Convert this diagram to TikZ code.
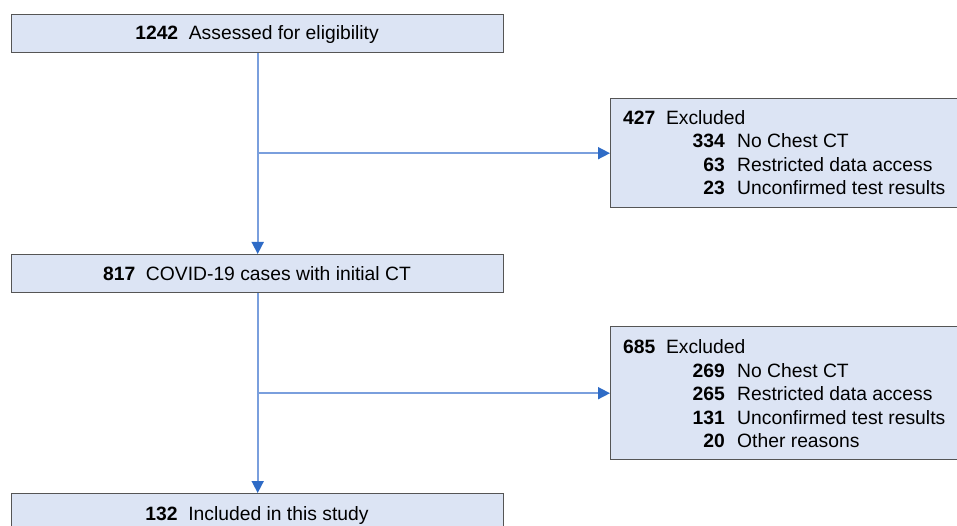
\documentclass[tikz,border=0pt]{standalone}
\usepackage{fontspec}
\setmainfont{Liberation Sans}
\usetikzlibrary{arrows.meta}
\definecolor{boxfill}{HTML}{DCE4F4}
\definecolor{boxline}{HTML}{555555}
\definecolor{linkline}{HTML}{7A9FDD}
\definecolor{tipblue}{HTML}{2E6BC6}
\tikzset{
  flowbox/.style={draw=boxline, line width=1.4pt, fill=boxfill, inner sep=0pt, anchor=north west},
  link/.style={draw=linkline, line width=1.6pt, -{Triangle[length=12pt,width=12pt,color=tipblue]}},
  lbl/.style={font=\fontsize{19.3}{22}\selectfont, inner sep=0pt, text=black},
}
\begin{document}
\begin{tikzpicture}[x=1pt,y=-1pt]
\useasboundingbox (0,0) rectangle (957,526);
\clip (0,0) rectangle (957,526);
\fill[white] (0,0) rectangle (957,526);
% main boxes
\node[flowbox, minimum width=492pt, minimum height=38pt] (b1) at (11,14) {};
\node[flowbox, minimum width=492pt, minimum height=38pt] (b2) at (11,254) {};
\node[flowbox, minimum width=492pt, minimum height=40pt] (b3) at (11,493) {};
\node[lbl, anchor=base] (b1t) at (257,40) {\textbf{1242}\hspace{0.55em}Assessed for eligibility};
\node[lbl, anchor=base] (b2t) at (257,280) {\textbf{817}\hspace{0.55em}COVID-19 cases with initial CT};
\node[lbl, anchor=base] (b3t) at (257,520) {\textbf{132}\hspace{0.55em}Included in this study};
% exclusion boxes
\node[flowbox, minimum width=350pt, minimum height=109pt] (e1) at (610,98) {};
\node[flowbox, minimum width=350pt, minimum height=133pt] (e2) at (610,326) {};
% texts of e1
\node[lbl, anchor=base west] (e1h) at (623,124.5) {\textbf{427}\hspace{0.55em}Excluded};
\node[lbl, anchor=base east] (e1n1) at (725,148) {\textbf{334}};
\node[lbl, anchor=base west] (e1t1) at (737,148) {No Chest CT};
\node[lbl, anchor=base east] (e1n2) at (725,171.5) {\textbf{63}};
\node[lbl, anchor=base west] (e1t2) at (737,171.5) {Restricted data access};
\node[lbl, anchor=base east] (e1n3) at (725,195) {\textbf{23}};
\node[lbl, anchor=base west] (e1t3) at (737,195) {Unconfirmed test results};
% texts of e2
\node[lbl, anchor=base west] (e2h) at (623,353.5) {\textbf{685}\hspace{0.55em}Excluded};
\node[lbl, anchor=base east] (e2n1) at (725,377) {\textbf{269}};
\node[lbl, anchor=base west] (e2t1) at (737,377) {No Chest CT};
\node[lbl, anchor=base east] (e2n2) at (725,400.5) {\textbf{265}};
\node[lbl, anchor=base west] (e2t2) at (737,400.5) {Restricted data access};
\node[lbl, anchor=base east] (e2n3) at (725,424) {\textbf{131}};
\node[lbl, anchor=base west] (e2t3) at (737,424) {Unconfirmed test results};
\node[lbl, anchor=base east] (e2n4) at (725,447.5) {\textbf{20}};
\node[lbl, anchor=base west] (e2t4) at (737,447.5) {Other reasons};
% connectors
\coordinate (j1) at (b1.south |- e1.west);
\coordinate (j2) at (b2.south |- e2.west);
\draw[link] (b1.south) -- (b2.north);
\draw[link] (j1) -- (e1.west);
\draw[link] (b2.south) -- (b3.north);
\draw[link] (j2) -- (e2.west);
\end{tikzpicture}
\end{document}
